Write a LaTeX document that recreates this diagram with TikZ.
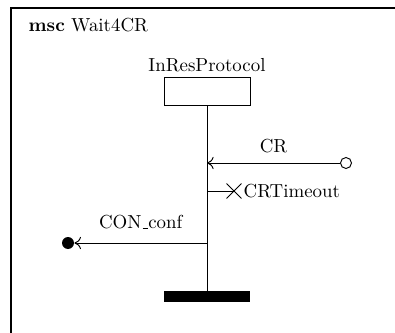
\documentclass[tikz,border=0pt]{standalone}
\usetikzlibrary{shapes.misc, arrows.meta}

\begin{document}
\begin{tikzpicture}[
    x=0.53pt, y=-0.53pt,
    inst/.style={draw, minimum width=86*0.53pt, minimum height=28*0.53pt, inner sep=0pt},
    endbar/.style={fill=black, minimum width=86*0.53pt, minimum height=11*0.53pt, inner sep=0pt},
    msg/.style={-{To[length=3.5pt,width=6.5pt]}, line width=0.5pt},
    lost/.style={draw, circle, inner sep=0pt, minimum size=11*0.53pt, line width=0.5pt},
    found/.style={fill=black, circle, inner sep=0pt, minimum size=12*0.53pt},
    timer/.style={draw, cross out, minimum size=14*0.53pt, inner sep=0pt, line width=0.5pt},
    lbl/.style={font=\normalsize}
  ]
    \useasboundingbox (0,0) rectangle (395,333);
    \draw[line width=0.8pt] (395,8) -| (11,333);
    \node[anchor=base west] (title) at (22,31) {\textbf{msc} Wait4CR};

    \node[anchor=base] (name) at (207,71) {InResProtocol};
    \node[inst]   (proc) at (207,91)    {};
    \node[endbar] (stop) at (207,296.5) {};
    \draw[line width=0.5pt] (proc.south) -- (stop.north);

    \coordinate (crin)   at (207,163);
    \coordinate (tmset)  at (207,191);
    \coordinate (conout) at (207,243);
    \node[lost]  (env)  at (346,163) {};
    \node[timer] (tm)   at (234,191) {};
    \node[found] (user) at (68,243)  {};

    \draw[msg] (env) -- node[above=2pt,lbl]{CR} (crin);
    \draw[line width=0.5pt] (tmset) -- (tm.center);
    \node[anchor=west,inner sep=1pt] (tmname) at (tm.east) {CRTimeout};
    \draw[msg] (conout) -- node[above=4pt,lbl]{CON\kern.06em\vbox{\hrule width.3em}conf} (user);
  \end{tikzpicture}
\end{document}
